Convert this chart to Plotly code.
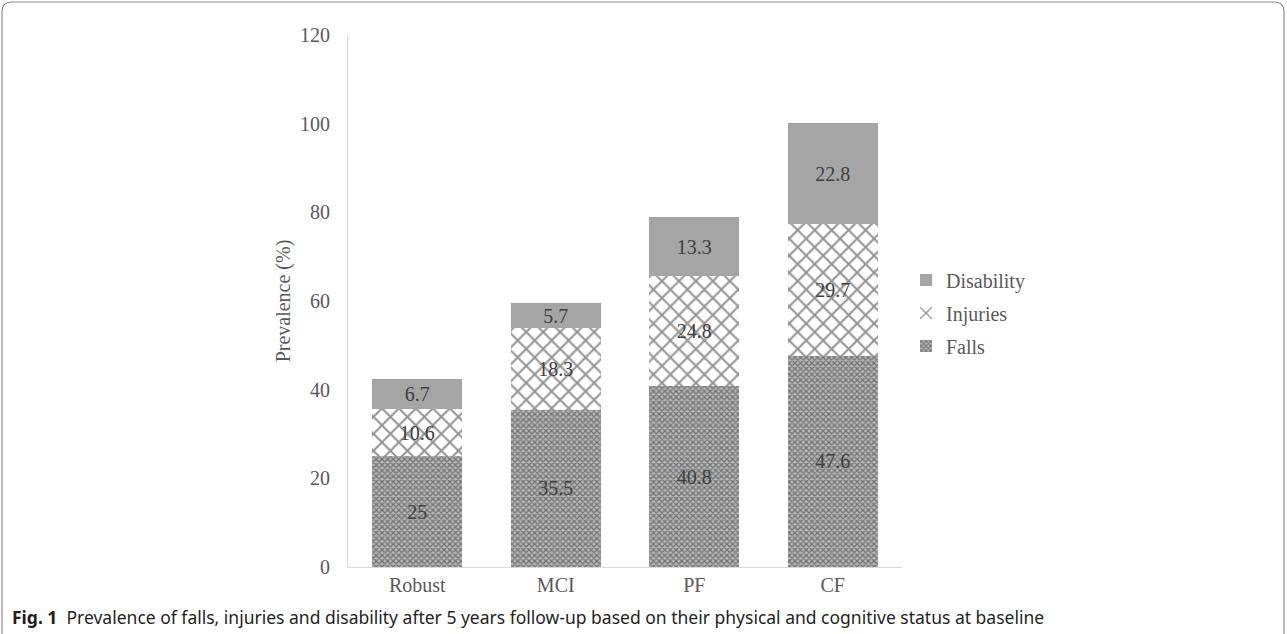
import plotly.graph_objects as go

categories = ["Robust", "MCI", "PF", "CF"]
falls = [25, 35.5, 40.8, 47.6]
injuries = [10.6, 18.3, 24.8, 29.7]
disability = [6.7, 5.7, 13.3, 22.8]
y_ticks = [0, 20, 40, 60, 80, 100, 120]

W, H = 1287, 634
L, R, T, B = 348, 902, 35, 567

def px(x):
    return (x - L) / (R - L)

def py(y):
    return (B - y) / (B - T)

serif = "Liberation Serif, Times New Roman, serif"
txt_color = "#404040"
tick_color = "#595959"
FS = 20

fig = go.Figure()
fig.add_trace(go.Bar(
    x=categories, y=falls, name="Falls", legendgroup="f", legendrank=3,
    text=[str(v) for v in falls], textposition="inside", insidetextanchor="middle",
    textfont=dict(family=serif, size=FS, color=txt_color),
    marker=dict(color="#ffffff", line=dict(width=0),
                pattern=dict(shape="x", size=4, solidity=0.55, fgcolor="#2e2e2e", bgcolor="#b8b8b8")),
))
fig.add_trace(go.Bar(
    x=categories, y=injuries, name="Injuries", legendgroup="i", legendrank=2,
    text=[str(v) for v in injuries], textposition="inside", insidetextanchor="middle",
    textfont=dict(family=serif, size=FS, color=txt_color),
    marker=dict(color="#ffffff", line=dict(width=0),
                pattern=dict(shape="x", size=12, solidity=0.3, fgcolor="#262626", bgcolor="#ffffff")),
))
fig.add_trace(go.Bar(
    x=categories, y=disability, name="Disability", legendgroup="d", legendrank=1,
    text=[str(v) for v in disability], textposition="inside", insidetextanchor="middle",
    textfont=dict(family=serif, size=FS, color=txt_color),
    marker=dict(color="#a5a5a5", line=dict(width=0)),
))

# rounded border path in paper coords
x0, x1, y0, y1, r = 2, 1284, 2, 660, 10
path = (f"M {px(x0+r)},{py(y0)} L {px(x1-r)},{py(y0)} Q {px(x1)},{py(y0)} {px(x1)},{py(y0+r)} "
        f"L {px(x1)},{py(y1)} M {px(x0)},{py(y1)} L {px(x0)},{py(y0+r)} Q {px(x0)},{py(y0)} {px(x0+r)},{py(y0)}")

fig.update_layout(
    width=W, height=H,
    barmode="stack", bargap=0.35,
    uniformtext=dict(mode="show", minsize=FS),
    margin=dict(l=L, r=W - R, t=T, b=H - B, autoexpand=False),
    paper_bgcolor="white", plot_bgcolor="white",
    font=dict(family=serif, color=tick_color, size=FS),
    showlegend=True,
    legend=dict(x=px(906), y=py(313), xanchor="left", yanchor="middle",
                traceorder="grouped", font=dict(family=serif, size=FS, color=tick_color),
                itemwidth=30, tracegroupgap=4, bgcolor="rgba(0,0,0,0)"),
    xaxis=dict(showline=True, linecolor="#d9d9d9", linewidth=1, ticks="",
               tickfont=dict(family=serif, size=FS, color=tick_color)),
    yaxis=dict(range=[0, 120], tickvals=y_ticks, showgrid=False, zeroline=False,
               showline=True, linecolor="#d9d9d9", linewidth=1, ticks="",
               ticklabelstandoff=13,
               tickfont=dict(family=serif, size=FS, color=tick_color),
               title=dict(text="Prevalence (%)", standoff=4,
                          font=dict(family=serif, size=FS, color=tick_color))),
    shapes=[dict(type="path", xref="paper", yref="paper", path=path,
                 line=dict(color="#8c8c8c", width=1.2), layer="above")],
    annotations=[dict(xref="paper", yref="paper", x=px(10), y=py(617),
                      xanchor="left", yanchor="middle", showarrow=False,
                      text="<b>Fig. 1</b>  Prevalence of falls, injuries and disability after 5 years follow-up based on their physical and cognitive status at baseline",
                      font=dict(family="Noto Sans, sans-serif", size=17.5, color="#231f20"))],
)

fig.write_html("out.html", config={"displayModeBar": False},
               post_script="document.body.style.margin='0';")
